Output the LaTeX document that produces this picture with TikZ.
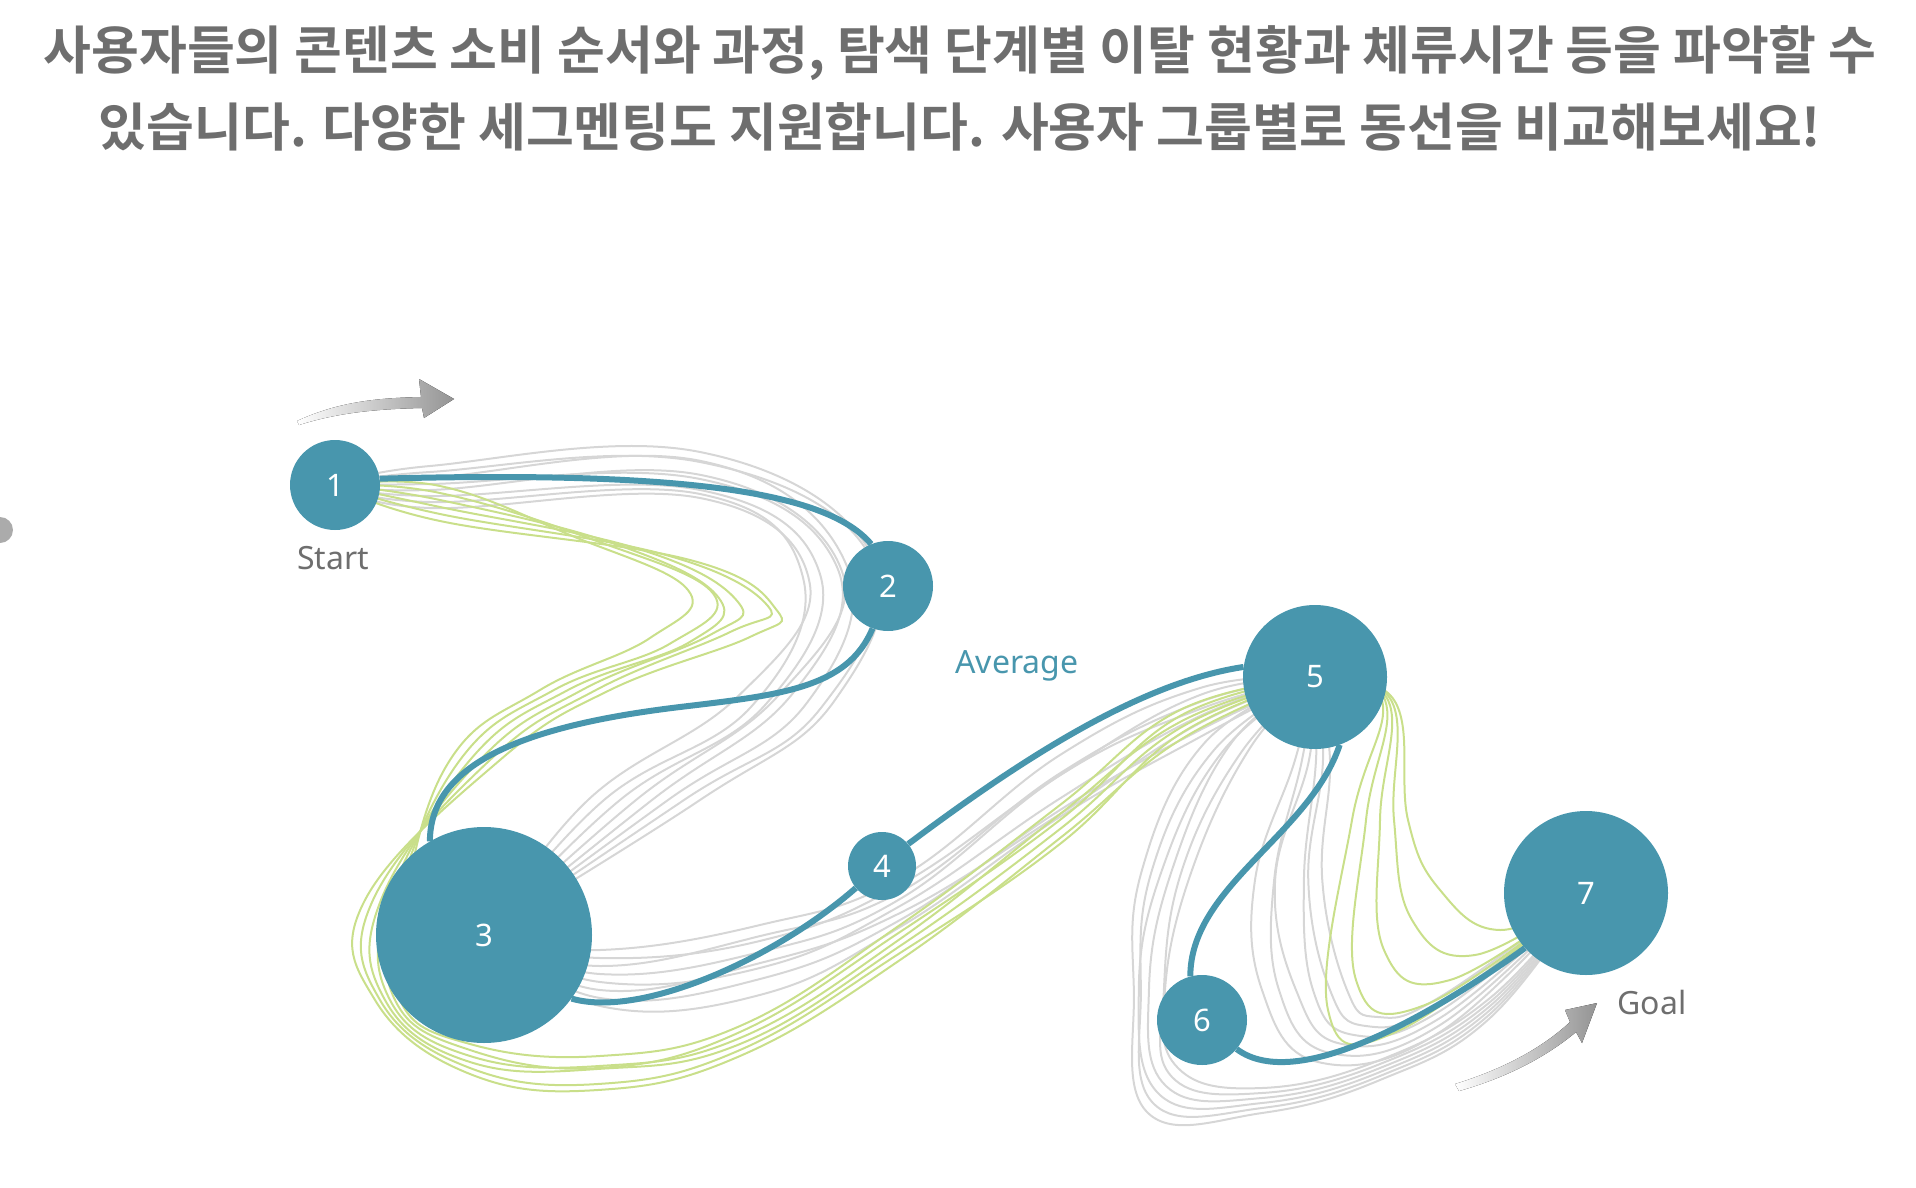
\documentclass[tikz,border=0pt]{standalone}
\usepackage{fontspec}
\setmainfont{Noto Sans}
\newfontfamily\krfont{Noto Sans CJK KR}[BoldFont={Noto Sans CJK KR Bold}]
\usepackage{tikz}
\usetikzlibrary{backgrounds}
\definecolor{avg}{HTML}{4896AD}
\definecolor{greyline}{HTML}{D6D6D6}
\definecolor{greenline}{HTML}{C9DF8A}
\definecolor{labelgrey}{HTML}{6E6E6E}
\tikzset{
stage/.style={circle,fill=avg,text=white,inner sep=0pt,
font=\fontsize{31}{31}\selectfont},
greyflow/.style={draw=greyline,line width=2pt},
greenflow/.style={draw=greenline,line width=2pt},
avgline/.style={draw=avg,line width=6pt},
tag/.style={text=labelgrey,font=\fontsize{32}{32}\selectfont},
way/.style={left color=white,right color=black!42}
}
\begin{document}
\begin{tikzpicture}[x=1pt,y=-1pt]
		\useasboundingbox (0,0) rectangle (1916,1188);

		\node[text=labelgrey,align=center,font=\fontsize{52}{77}\selectfont\krfont\bfseries] (head) at (960,88)
		{사용자들의 콘텐츠 소비 순서와 과정, 탐색 단계별 이탈 현황과 체류시간 등을 파악할 수\\
		있습니다. 다양한 세그멘팅도 지원합니다. 사용자 그룹별로 동선을 비교해보세요!};

		\begin{scope}
		\clip (0,0) rectangle (60,600);
		\fill[black!33] (0,530) circle (13pt);
		\end{scope}

		\node[stage,minimum size=90pt] (P1) at (335,485) {1};
		\node[stage,minimum size=90pt] (P2) at (888,586) {2};
		\node[stage,minimum size=216pt] (P3) at (484,935) {3};
		\node[stage,minimum size=68pt] (P4) at (882,866) {4};
		\node[stage,minimum size=144pt] (P5) at (1315,677) {5};
		\node[stage,minimum size=90pt] (P6) at (1202,1020) {6};
		\node[stage,minimum size=164pt] (P7) at (1586,893) {7};

		\node[tag] (start) at (333,558) {Start};
		\node[tag,text=avg] (average) at (1017,666) {Average};
		\node[tag] (goal) at (1652,1002) {Goal};

		\fill[way] (297,421) .. controls (340,401) and (380,398) .. (421,397) -- (419,379)
		-- (454,399) -- (424,418) -- (422,408) .. controls (380,409) and (340,412) .. (299,425) -- cycle;
		\fill[way] (1455,1084) .. controls (1500,1070) and (1540,1050) .. (1570,1022) -- (1565,1010)
		-- (1597,1003) -- (1582,1043) -- (1576,1032) .. controls (1545,1058) and (1505,1078) .. (1459,1091) -- cycle;

		\begin{pgfonlayer}{background}
		\foreach \k in {0,...,7}
		\draw[greyflow] plot[smooth,tension=0.7] coordinates {(P1) (430,{466+6*\k}) (700,{452+7*\k+6*sin(\k*150)})
		({872-10*\k+10*sin(\k*110)},{555+4*\k}) ({835-14*\k},{700+8*sin(\k*80)}) ({700-16*\k},800) (P3)};
		\foreach \k in {0,...,7}
		\draw[greyflow] plot[smooth,tension=0.7] coordinates {(P3) (600,{950+8*\k}) (760,{925+9*\k+8*sin(\k*120)})
		(900,{878+7*\k}) (1060,{755+10*\k+10*sin(\k*95)}) (1200,{688+7*\k}) (P5)};
		\foreach \k in {0,...,5}
		\draw[greyflow] plot[smooth,tension=0.7] coordinates {(P5) ({1250-9*\k},{748+6*sin(\k*130)}) ({1192-10*\k},870)
		({1165-7*\k+6*sin(\k*100)},990) ({1178-6*\k},{1068+9*\k}) (1262,{1088+5*\k}) (1380,{1060+4*\k}) (1490,{998+4*\k}) (P7)};
		\foreach \k in {0,...,5}
		\draw[greyflow] plot[smooth,tension=0.7] coordinates {(P5) ({1295+7*\k},760) ({1255+14*\k+8*sin(\k*140)},880)
		({1262+17*\k},990) ({1318+12*\k},{1062-9*\k}) (1440,{1032-7*\k}) (P7)};

		\foreach \k in {0,...,5}
		\draw[greenflow] plot[smooth,tension=0.7] coordinates {(P1) (440,{486+7*\k}) ({570+24*\k},{535+5*\k})
		({688+18*\k+8*sin(\k*110)},{590+4*\k}) ({650+20*\k},{638+6*sin(\k*70)}) ({540+14*\k},690) ({450+10*\k},760)
		({405-8*\k},900) ({400-5*\k},1000) (470,{1044+6*\k}) (600,{1056+6*\k+6*sin(\k*100)}) (740,{1026+6*\k})
		(900,{925+7*\k}) (1060,{805+8*\k+8*sin(\k*120)}) (1180,{710+6*\k}) (P5)};
		\foreach \k in {0,...,4}
		\draw[greenflow] plot[smooth,tension=0.7] coordinates {(P5) ({1394-3*\k},700) ({1408-14*\k},820)
		({1440-28*\k},{890+30*\k}) ({1500-25*\k},{930+25*\k}) (P7)};

		\draw[avgline] (P1.8) .. controls (700,470) and (830,495) .. (P2.112);
		\draw[avgline] (P2.250) .. controls +(-25,60) and +(100,-12) .. (680,707)
		.. controls +(-150,18) and +(0,-80) .. (P3.120);
		\draw[avgline] (P3.-36) .. controls +(70,20) and +(-80,70) .. (P4.220);
		\draw[avgline] (P4.40) .. controls +(120,-90) and +(-100,15) .. (P5.172);
		\draw[avgline] (P5.-70) .. controls +(-30,90) and +(0,-90) .. (P6.105);
		\draw[avgline] (P6.-40) .. controls +(60,45) and +(-90,65) .. (P7.222);
		\end{pgfonlayer}

	\end{tikzpicture}
\end{document}
